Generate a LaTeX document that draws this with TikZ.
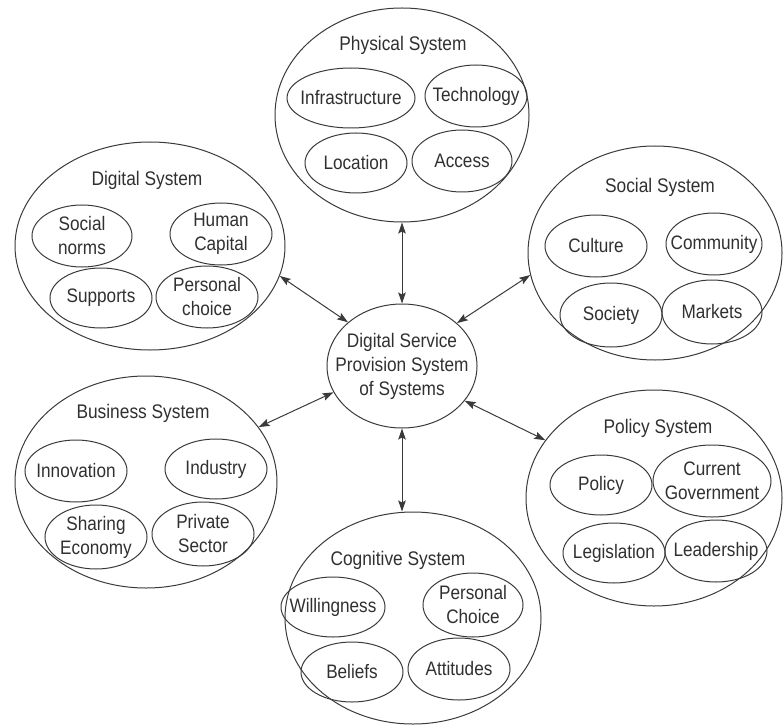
\documentclass[tikz,border=0pt]{standalone}
\usepackage{fontspec}
\setmainfont{Liberation Sans}[FakeStretch=0.88]
\usetikzlibrary{shapes.geometric,arrows.meta}
\definecolor{ink}{HTML}{3A3A3A}
\definecolor{txt}{HTML}{303030}
\tikzset{
  sys/.style={draw=ink, line width=1pt, ellipse, inner xsep=-80pt, inner ysep=-40pt},
  item/.style={draw=ink, line width=1pt, ellipse, inner xsep=-80pt, inner ysep=-40pt, align=center,
     text=txt, font=\fontsize{19.5}{24}\selectfont},
  ttl/.style={text=txt, font=\fontsize{19.7}{24}\selectfont, inner sep=0pt},
  link/.style={draw=ink, line width=1pt, {Stealth[length=11pt,width=7.5pt,inset=2pt]}-{Stealth[length=11pt,width=7.5pt,inset=2pt]}}
}
\begin{document}
\begin{tikzpicture}[x=1pt,y=-1pt]
\useasboundingbox (0,0) rectangle (783,727);

% Physical System
\node[sys, minimum width=254pt, minimum height=214pt] (phys) at (402,115) {};
\node[ttl] (physT) at (403,45) {Physical System};
\node[item, minimum width=128pt, minimum height=60pt] (infra) at (351,98) {Infrastructure};
\node[item, minimum width=102pt, minimum height=62pt] (tech) at (476,96) {Technology};
\node[item, minimum width=102pt, minimum height=60pt] (loc) at (356,163) {Location};
\node[item, minimum width=100pt, minimum height=62pt] (acc) at (462,161) {Access};

% Digital System
\node[sys, minimum width=270pt, minimum height=208pt] (dig) at (150,246) {};
\node[ttl] (digT) at (147,180) {Digital System};
\node[item, minimum width=100pt, minimum height=62pt] (norms) at (82,236) {Social\\norms};
\node[item, minimum width=102pt, minimum height=62pt] (human) at (221,234) {Human\\Capital};
\node[item, minimum width=102pt, minimum height=60pt] (supp) at (101,298) {Supports};
\node[item, minimum width=102pt, minimum height=62pt] (pchoice) at (207,297) {Personal\\choice};

% Social System
\node[sys, minimum width=254pt, minimum height=214pt] (soc) at (655,253) {};
\node[ttl] (socT) at (660,187) {Social System};
\node[item, minimum width=102pt, minimum height=62pt] (cult) at (596,246) {Culture};
\node[item, minimum width=96pt, minimum height=62pt] (comm) at (714,244) {Community};
\node[item, minimum width=102pt, minimum height=64pt] (socy) at (611,315) {Society};
\node[item, minimum width=100pt, minimum height=64pt] (mkt) at (712,312) {Markets};

% Business System
\node[sys, minimum width=262pt, minimum height=212pt] (bus) at (146,482) {};
\node[ttl] (busT) at (143,413) {Business System};
\node[item, minimum width=102pt, minimum height=62pt] (innov) at (76,471) {Innovation};
\node[item, minimum width=102pt, minimum height=60pt] (ind) at (216,469) {Industry};
\node[item, minimum width=102pt, minimum height=64pt] (share) at (96,537) {Sharing\\Economy};
\node[item, minimum width=102pt, minimum height=64pt] (priv) at (203,534) {Private\\Sector};

% Policy System
\node[sys, minimum width=256pt, minimum height=216pt] (pol) at (654,498) {};
\node[ttl] (polT) at (658,428) {Policy System};
\node[item, minimum width=102pt, minimum height=60pt] (policy) at (601,485) {Policy};
\node[item, minimum width=118pt, minimum height=72pt] (gov) at (712,481) {Current\\Government};
\node[item, minimum width=102pt, minimum height=60pt] (leg) at (614,553) {Legislation};
\node[item, minimum width=102pt, minimum height=62pt] (lead) at (716,551) {Leadership};

% Cognitive System
\node[sys, minimum width=256pt, minimum height=212pt] (cog) at (413,618) {};
\node[ttl] (cogT) at (398,560) {Cognitive System};
\node[item, minimum width=104pt, minimum height=60pt] (will) at (333,607) {Willingness};
\node[item, minimum width=100pt, minimum height=64pt] (pchoice2) at (473,605) {Personal\\Choice};
\node[item, minimum width=102pt, minimum height=60pt] (bel) at (352,672) {Beliefs};
\node[item, minimum width=102pt, minimum height=62pt] (att) at (459,669) {Attitudes};

% Center
\node[sys, minimum width=150pt, minimum height=124pt, align=center, text=txt,
      font=\fontsize{19.6}{24}\selectfont] (ctr) at (402,366)
      {Digital Service\\Provision System\\of Systems};

% Connectors
\draw[link] (ctr.90) -- (phys.270);
\draw[link] (ctr.141) -- (dig.-13);
\draw[link] (ctr.38) -- (soc.190);
\draw[link] (ctr.201) -- (bus.26);
\draw[link] (ctr.-29) -- (pol.152);
\draw[link] (ctr.270) -- (ctr.270 |- cog.north);
\end{tikzpicture}
\end{document}
